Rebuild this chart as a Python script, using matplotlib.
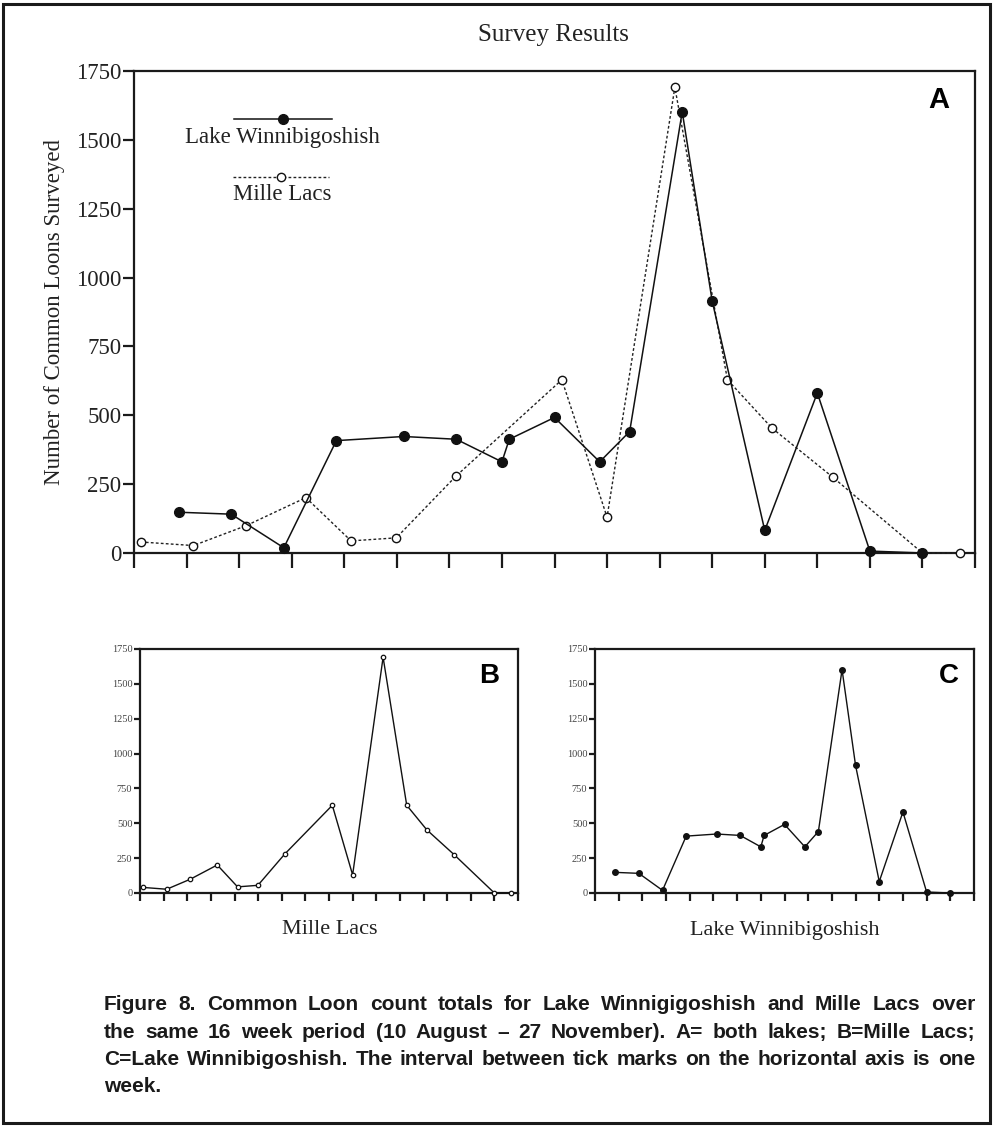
import numpy as np
import matplotlib.pyplot as plt
import matplotlib.font_manager as fm
from matplotlib.patches import Rectangle

# Survey dates as weeks after 10 August, with loon counts
winni_weeks = [0.85, 1.85, 2.85, 3.85, 5.13, 6.13, 7.0, 7.14, 8.0, 8.86,
               9.43, 10.43, 11.0, 12.0, 13.0, 14.0, 15.0]
winni_counts = [148, 141, 19, 408, 423, 413, 331, 413, 492, 331,
                441, 1602, 915, 82, 581, 7, 0]

mille_weeks = [0.13, 1.13, 2.13, 3.27, 4.13, 4.99, 6.13, 8.14, 9.0,
               10.29, 11.29, 12.14, 13.29, 15.0, 15.72]
mille_counts = [40, 27, 99, 201, 44, 55, 280, 629, 130,
                1691, 629, 453, 276, 0, 0]

y_ticks = [0, 250, 500, 750, 1000, 1250, 1500, 1750]
n_weeks = 16

caption_lines = [
    "Figure 8. Common Loon count totals for Lake Winnigigoshish and Mille Lacs over",
    "the same 16 week period (10 August \u2013 27 November). A= both lakes; B=Mille Lacs;",
    "C=Lake Winnibigoshish. The interval between tick marks on the horizontal axis is one",
    "week.",
]

W, H = 994, 1126
fig = plt.figure(figsize=(W / 100, H / 100), dpi=100)
serif = 'Liberation Serif'
names = {f.name for f in fm.fontManager.ttflist}
cap_font = 'Liberation Sans Narrow' if 'Liberation Sans Narrow' in names else 'Liberation Sans'


def box(x0, y0, x1, y1):
    # pixel box (top-left origin) -> figure fraction rect
    return [x0 / W, 1 - y1 / H, (x1 - x0) / W, (y1 - y0) / H]


def style_axes(ax, lw, ylen, xlen, fs, color):
    ax.set_xlim(0, n_weeks)
    ax.set_ylim(0, 1750)
    ax.set_xticks(np.arange(n_weeks + 1))
    ax.set_xticklabels([])
    ax.set_yticks(y_ticks)
    ax.set_yticklabels([str(v) for v in y_ticks], fontfamily=serif,
                       fontsize=fs, color=color)
    for s in ax.spines.values():
        s.set_linewidth(lw)
        s.set_color('#1a1a1a')
    ax.tick_params(axis='y', direction='out', length=ylen, width=lw, pad=1,
                   color='#1a1a1a')
    ax.tick_params(axis='x', direction='out', length=xlen, width=lw,
                   color='#1a1a1a')


# Panel A: both lakes
ax = fig.add_axes(box(134, 71, 975, 553))
style_axes(ax, 1.6, 8, 11, 16.5, '#222222')
ax.plot(mille_weeks, mille_counts, ls=(0, (2, 1.6)), lw=1.0, color='#222222',
        marker='o', ms=6, mfc='white', mec='#111111', mew=1.0,
        clip_on=False, zorder=3)
ax.plot(winni_weeks, winni_counts, '-', lw=1.1, color='#111111',
        marker='o', ms=7, mfc='#111111', mec='#111111',
        clip_on=False, zorder=4)
ax.text(0.97, 0.94, 'A', transform=ax.transAxes, ha='right', va='center',
        fontsize=21, fontweight='bold', family='Liberation Sans')
ax.set_ylabel('Number of Common Loons Surveyed', fontfamily=serif,
              fontsize=16.5, color='#222222', labelpad=8)
fig.text(553 / W, 1 - 35 / H, 'Survey Results', ha='center', va='center',
         fontfamily=serif, fontsize=18, color='#222222')

# hand-drawn legend
ax.plot([0.119, 0.235], [0.900, 0.900], '-', lw=1.1, color='#111111',
        transform=ax.transAxes)
ax.plot([0.177], [0.900], 'o', ms=7, color='#111111', transform=ax.transAxes)
ax.text(0.176, 0.863, 'Lake Winnibigoshish', transform=ax.transAxes,
        ha='center', va='center', fontfamily=serif, fontsize=16.5,
        color='#222222')
ax.plot([0.118, 0.232], [0.780, 0.780], ls=(0, (2, 1.6)), lw=1.0,
        color='#222222', transform=ax.transAxes)
ax.plot([0.175], [0.780], 'o', ms=6, mfc='white', mec='#111111', mew=1.0,
        transform=ax.transAxes)
ax.text(0.176, 0.743, 'Mille Lacs', transform=ax.transAxes,
        ha='center', va='center', fontfamily=serif, fontsize=16.5,
        color='#222222')

# Panel B: Mille Lacs
axb = fig.add_axes(box(140, 649, 518, 893))
style_axes(axb, 1.6, 4.5, 6, 7.5, '#444444')
axb.plot(mille_weeks, mille_counts, '-', lw=1.0, color='#111111',
         marker='o', ms=3.2, mfc='white', mec='#111111', mew=0.9,
         clip_on=False, zorder=3)
axb.text(0.95, 0.89, 'B', transform=axb.transAxes, ha='right', va='center',
         fontsize=20, fontweight='bold', family='Liberation Sans')
fig.text(330 / W, 1 - 930 / H, 'Mille Lacs', ha='center', va='center',
         fontfamily=serif, fontsize=16, color='#222222')

# Panel C: Lake Winnibigoshish
axc = fig.add_axes(box(595, 649, 974, 893))
style_axes(axc, 1.6, 4.5, 6, 7.5, '#444444')
axc.plot(winni_weeks, winni_counts, '-', lw=1.0, color='#111111',
         marker='o', ms=4, mfc='#111111', mec='#111111',
         clip_on=False, zorder=3)
axc.text(0.96, 0.89, 'C', transform=axc.transAxes, ha='right', va='center',
         fontsize=20, fontweight='bold', family='Liberation Sans')
fig.text(785 / W, 1 - 930 / H, 'Lake Winnibigoshish', ha='center',
         va='center', fontfamily=serif, fontsize=16, color='#222222')

# Caption, justified between two margins
renderer = fig.canvas.get_renderer()
x_left, x_right = 104, 975
for i, line in enumerate(caption_lines):
    y = 1 - (1005 + i * 27.3) / H
    kw = dict(va='center', ha='left', fontfamily=cap_font, fontsize=15,
              fontweight='bold', color='#1a1a1a')
    if i == len(caption_lines) - 1:
        fig.text(x_left / W, y, line, **kw)
        continue
    words = line.split(' ')
    texts = [fig.text(0, y, w, **kw) for w in words]
    widths = [t.get_window_extent(renderer).width for t in texts]
    gap = (x_right - x_left - sum(widths)) / (len(words) - 1)
    x = x_left
    for t, w in zip(texts, widths):
        t.set_x(x / W)
        x += w + gap

# outer frame
fig.add_artist(Rectangle((3 / W, 1 - 1123 / H), 987 / W, 1119 / H,
                         transform=fig.transFigure, fill=False,
                         lw=2.2, edgecolor='#1a1a1a'))

fig.savefig('out.png', dpi=100)
